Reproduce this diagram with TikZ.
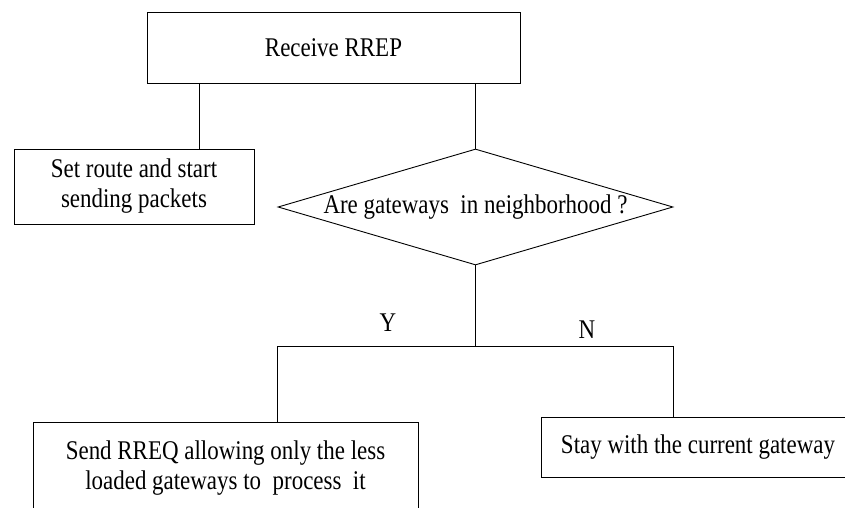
\documentclass[tikz,border=0pt]{standalone}
\usepackage{fontspec}
\setmainfont{Liberation Serif}[FakeStretch=0.85]
\usetikzlibrary{shapes.geometric,calc}
\begin{document}
\begin{tikzpicture}[x=1bp,y=-1bp,
  every node/.style={font=\fontsize{27bp}{30bp}\selectfont},
  boxnode/.style={draw,line width=0.9bp,rectangle,inner sep=0pt,align=center},
  link/.style={line width=0.9bp}]
\useasboundingbox (0,0) rectangle (845,508);
\clip (0,0) rectangle (845,508);
\node[boxnode,minimum width=373bp,minimum height=71bp] (top) at (333.5,47.5) {Receive RREP};
\node[boxnode,minimum width=240bp,minimum height=75bp] (set) at (134,186.5) {Set route and start\\sending packets};
\node[draw,line width=0.9bp,diamond,aspect=3.4,inner sep=-5bp,minimum width=395bp,minimum height=116bp] (dia) at (475.5,207) {Are gateways\ \ in neighborhood ?};
\node[boxnode,minimum width=385bp,minimum height=92bp] (send) at (225.5,468) {Send RREQ allowing only the less\\loaded gateways to\ \ process\ \ it};
\node[boxnode,minimum width=314bp,minimum height=60bp] (stay) at (698,447) {Stay with the current gateway};
\node (y) at (388,323) {Y};
\node (n) at (587,330) {N};
\coordinate (a) at (199,83);
\coordinate (j) at (475.5,346);
\draw[link] (a) -- (a |- set.north);
\draw[link] (dia.north |- top.south) -- (dia.north);
\draw[link] (dia.south) -- (j);
\draw[link] (dia.west |- j) -- (dia.east |- j);
\draw[link] (dia.west |- j) -- (dia.west |- send.north);
\draw[link] (dia.east |- j) -- (dia.east |- stay.north);
\end{tikzpicture}
\end{document}
